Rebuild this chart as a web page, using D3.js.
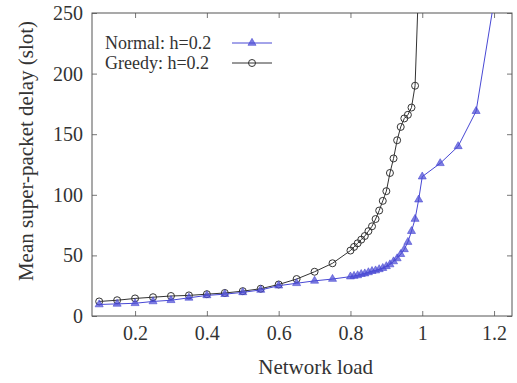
<!DOCTYPE html>
<html>
<head>
<meta charset="utf-8">
<script src="https://cdn.jsdelivr.net/npm/d3@7"></script>
<style>
  body { margin: 0; background: #fff; }
  svg text { font-family: "Liberation Serif", "Times New Roman", serif; fill: #333; }
</style>
</head>
<body>
<div id="chart"></div>
<script>
// network load values and mean delay (slot) per policy
const normalLoad = [0.1, 0.15, 0.2, 0.25, 0.3, 0.35, 0.4, 0.45, 0.5, 0.55, 0.6, 0.65, 0.7, 0.75,
    0.8, 0.81, 0.82, 0.83, 0.84, 0.85, 0.86, 0.87, 0.88, 0.89, 0.9, 0.91, 0.92, 0.93, 0.94, 0.95,
    0.96, 0.97, 0.98, 0.99, 1.0, 1.05, 1.1, 1.15, 1.2];
const normalDelay = [9.5, 10, 10.5, 12, 13, 15, 17, 18, 19.5, 21.5, 25, 27, 29, 30.5,
    32.5, 33, 33.5, 34.5, 35, 36, 37, 37.5, 38.5, 39.5, 41, 42.5, 45, 47.5, 51, 55,
    61, 70, 80, 96, 115, 126, 140, 169, 260];

const greedyLoad = [0.1, 0.15, 0.2, 0.25, 0.3, 0.35, 0.4, 0.45, 0.5, 0.55, 0.6, 0.65, 0.7, 0.75,
    0.8, 0.81, 0.82, 0.83, 0.84, 0.85, 0.86, 0.87, 0.88, 0.89, 0.9, 0.91, 0.92, 0.93, 0.94, 0.95,
    0.96, 0.97, 0.98, 0.99];
const greedyDelay = [12, 13, 14.5, 15.5, 16.5, 17, 18, 19, 20.5, 22.5, 26, 30.5, 36.5, 43.5,
    54, 57, 60, 63, 66, 70, 74, 80, 87, 95, 103, 118, 130, 145, 156, 163,
    166, 172, 190, 275];

const xTicks = [0.2, 0.4, 0.6, 0.8, 1, 1.2];
const yTicks = [0, 50, 100, 150, 200, 250];

const series = [
    { name: "Normal: h=0.2", load: normalLoad, delay: normalDelay, color: "#4848d4", mark: "triangle" },
    { name: "Greedy: h=0.2", load: greedyLoad, delay: greedyDelay, color: "#333333", mark: "circle" }
];

let W = 517, H = 383;
let margin = { top: 13, right: 5, bottom: 67, left: 92 },
    width = W - margin.left - margin.right,
    height = H - margin.top - margin.bottom;

let svg = d3.select("#chart")
    .append("svg")
    .attr("width", W)
    .attr("height", H)
    .append("g")
    .attr("transform", "translate(" + margin.left + "," + margin.top + ")");

let x = d3.scaleLinear().domain([0.08, 1.25]).range([0, width]);
let y = d3.scaleLinear().domain([0, 250]).range([height, 0]);

svg.append("clipPath").attr("id", "plot-clip")
    .append("rect").attr("width", width).attr("height", height);

// axes, gnuplot style: inward ticks on all four sides
function styleAxis(g) {
    g.attr("font-family", null);
    g.select(".domain").remove();
    g.selectAll(".tick line").attr("stroke", "#777");
    g.selectAll(".tick text").attr("font-size", "20px").attr("fill", "#333")
        .style("font-family", "'Liberation Serif', serif");
}

svg.append("g")
    .attr("transform", "translate(0," + height + ")")
    .call(d3.axisBottom(x).tickValues(xTicks).tickSize(-5).tickPadding(10).tickFormat(d3.format("")))
    .call(styleAxis);
svg.append("g")
    .call(d3.axisTop(x).tickValues(xTicks).tickSize(-5).tickFormat(""))
    .call(styleAxis);
svg.append("g")
    .call(d3.axisLeft(y).tickValues(yTicks).tickSize(-5).tickPadding(9))
    .call(styleAxis);
svg.append("g")
    .attr("transform", "translate(" + width + ",0)")
    .call(d3.axisRight(y).tickValues(yTicks).tickSize(-5).tickFormat(""))
    .call(styleAxis);

svg.append("rect")
    .attr("width", width)
    .attr("height", height)
    .attr("fill", "none")
    .attr("stroke", "#555")
    .attr("stroke-width", 1);

svg.append("text")
    .attr("x", x(0.6) + 37)
    .attr("y", height + 58)
    .attr("text-anchor", "middle")
    .attr("font-size", "21px")
    .text("Network load");

svg.append("text")
    .attr("transform", "rotate(-90)")
    .attr("x", -138)
    .attr("y", -59)
    .attr("text-anchor", "middle")
    .attr("font-size", "21px")
    .text("Mean super-packet delay (slot)");

let line = d3.line().x(d => x(d[0])).y(d => y(d[1]));
let triangle = d3.symbol().type(d3.symbolTriangle).size(28);

function drawMark(g, s, px, py) {
    if (s.mark === "triangle") {
        g.append("path")
            .attr("d", triangle())
            .attr("transform", "translate(" + px + "," + py + ")")
            .attr("fill", s.color)
            .attr("fill-opacity", 0.7)
            .attr("stroke", s.color)
            .attr("stroke-width", 0.6);
    } else {
        g.append("circle")
            .attr("cx", px).attr("cy", py).attr("r", 3.5)
            .attr("fill", "none")
            .attr("stroke", s.color)
            .attr("stroke-width", 1);
    }
}

// draw greedy first so normal sits on top at low loads
[series[1], series[0]].forEach(function(s) {
    let pts = s.load.map((v, i) => [v, s.delay[i]]);
    let g = svg.append("g");
    g.append("path")
        .datum(pts)
        .attr("clip-path", "url(#plot-clip)")
        .attr("fill", "none")
        .attr("stroke", s.color)
        .attr("stroke-width", 1)
        .attr("d", line);
    pts.filter(p => p[1] <= 250).forEach(p => drawMark(g, s, x(p[0]), y(p[1])));
});

// legend
series.forEach(function(s, i) {
    let ly = 30 + i * 20;
    svg.append("text")
        .attr("x", 13)
        .attr("y", ly)
        .attr("dy", "0.35em")
        .attr("font-size", "18px")
        .text(s.name);
    let g = svg.append("g");
    g.append("line")
        .attr("x1", 140).attr("x2", 180)
        .attr("y1", ly).attr("y2", ly)
        .attr("stroke", s.color)
        .attr("stroke-width", 1);
    drawMark(g, s, 160, ly);
});
</script>
</body>
</html>
